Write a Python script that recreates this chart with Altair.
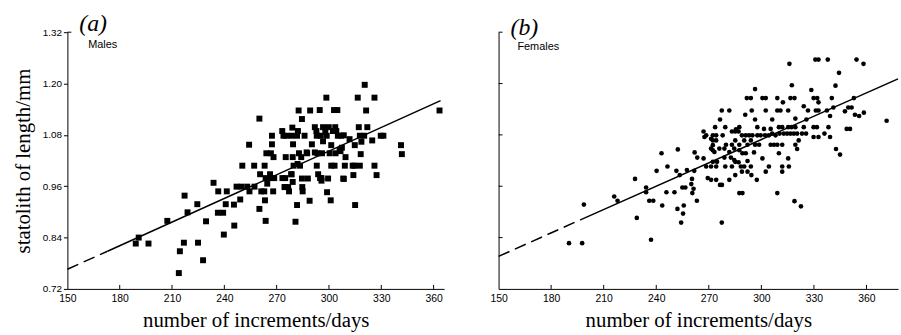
import altair as alt
import pandas as pd

# ---- data: (days, statolith length mm) ----
males = [
    (189.2, 0.826), (190.9, 0.840), (196.5, 0.826), (207.3, 0.879), (213.9, 0.757),
    (214.5, 0.808), (216.8, 0.828), (217.2, 0.938), (218.9, 0.899), (224.5, 0.918),
    (224.9, 0.828), (227.8, 0.787), (229.5, 0.878), (233.8, 0.968), (236.5, 0.948),
    (236.3, 0.898), (239.3, 0.898), (239.7, 0.847), (241.4, 0.948), (240.8, 0.918),
    (245.7, 0.868), (245.5, 0.917), (247.0, 0.959), (249.1, 0.929), (250.3, 1.008),
    (249.7, 0.959), (253.1, 0.959), (254.2, 1.057), (254.4, 0.948), (257.3, 0.959),
    (257.1, 1.008), (260.1, 0.907), (260.1, 1.118), (260.5, 0.988), (261.2, 0.948),
    (262.9, 0.948), (263.1, 1.008), (263.3, 0.927), (263.7, 0.879), (263.7, 0.979),
    (264.1, 1.037), (264.6, 0.966), (266.2, 0.988), (266.7, 0.979), (266.7, 1.037),
    (267.3, 1.058), (267.3, 1.078), (268.0, 0.948), (268.2, 1.028), (268.6, 0.979),
    (273.2, 1.089), (273.3, 0.979), (273.9, 1.078), (274.5, 0.958), (275.2, 1.028),
    (275.6, 1.078), (276.6, 0.958), (277.1, 0.948), (278.3, 0.988), (278.6, 1.078),
    (279.0, 1.097), (279.4, 1.058), (279.2, 1.028), (279.2, 0.970), (279.7, 1.008),
    (280.8, 0.877), (281.7, 1.078), (281.7, 0.916), (282.2, 1.089), (282.6, 1.137),
    (282.8, 1.037), (283.4, 1.008), (284.1, 1.028), (284.5, 1.117), (284.5, 0.978),
    (284.7, 0.958), (284.9, 0.948), (286.0, 1.078), (287.9, 0.978), (287.5, 1.037),
    (288.9, 0.926), (289.2, 1.137), (290.2, 1.058), (291.9, 1.098), (292.8, 1.089),
    (293.0, 1.078), (293.0, 1.008), (293.4, 1.037), (293.8, 0.988), (294.7, 1.138),
    (294.9, 0.979), (295.3, 1.078), (295.7, 0.973), (296.0, 1.037), (296.6, 1.065),
    (297.9, 1.087), (298.5, 1.167), (298.9, 0.946), (299.5, 0.978), (298.7, 1.078),
    (299.9, 1.098), (300.4, 1.037), (301.0, 0.927), (301.3, 1.056), (301.3, 1.008),
    (302.3, 1.089), (302.9, 1.138), (303.2, 1.008), (303.6, 1.098), (303.8, 1.037),
    (304.8, 1.138), (305.1, 1.078), (306.1, 1.045), (307.0, 1.078), (308.2, 0.978),
    (309.1, 1.008), (309.5, 1.028), (311.8, 1.070), (314.0, 0.986), (314.6, 1.008),
    (314.8, 1.056), (315.0, 0.916), (316.5, 1.167), (317.1, 1.098), (317.7, 1.078),
    (317.7, 1.008), (318.2, 1.035), (318.6, 1.064), (320.2, 1.078), (320.5, 1.197),
    (321.3, 1.137), (322.0, 1.098), (324.8, 1.067), (326.1, 1.167), (326.1, 1.008),
    (327.3, 0.986), (329.7, 1.078), (331.2, 1.078), (341.3, 1.056), (341.8, 1.035),
    (363.4, 1.137), (304.2, 1.089), (308.5, 1.079), (296.6, 1.098), (287.2, 1.039),
    (291.9, 1.039), (306.6, 1.042), (282.0, 1.012), (313.6, 1.008), (274.9, 0.979),
    (278.6, 0.988), (295.7, 0.979), (308.5, 0.977), (274.9, 0.958), (307.4, 1.050),
]

females = [
    (190.2, 0.827), (197.7, 0.827), (198.7, 0.917), (216.0, 0.936), (217.9, 0.926),
    (228.9, 0.886), (227.9, 0.977), (234.2, 0.957), (234.2, 0.946), (236.0, 0.926),
    (238.3, 0.926), (237.0, 0.835), (240.2, 0.996), (243.0, 1.037), (243.4, 0.915),
    (245.8, 0.946), (246.4, 1.006), (250.4, 0.946), (251.5, 0.996), (252.3, 1.046),
    (252.1, 0.907), (255.7, 0.915), (255.3, 0.896), (254.2, 0.875), (253.4, 0.986),
    (254.9, 0.957), (256.6, 0.957), (257.5, 0.998), (261.7, 0.996), (260.4, 0.977),
    (260.0, 0.965), (261.3, 0.954), (260.6, 0.944), (263.2, 0.926), (261.9, 1.039),
    (263.4, 1.027), (267.0, 1.025), (271.3, 1.071), (272.3, 1.056), (272.3, 1.044),
    (267.5, 1.075),
    (316.0, 1.246), (330.8, 1.256), (332.6, 1.256), (337.9, 1.256), (354.3, 1.256),
    (358.3, 1.246), (344.3, 1.225), (317.4, 1.196), (342.3, 1.195), (296.4, 1.187),
    (328.5, 1.185), (291.7, 1.166), (294.0, 1.166), (300.6, 1.166), (302.5, 1.166),
    (309.1, 1.166), (316.6, 1.166), (318.9, 1.166), (329.8, 1.166), (331.9, 1.166),
    (340.2, 1.166), (352.8, 1.166), (312.3, 1.156), (332.6, 1.156), (324.2, 1.147),
    (277.4, 1.137), (281.7, 1.137), (294.5, 1.137), (302.5, 1.137), (309.1, 1.137),
    (310.9, 1.137), (315.3, 1.137), (326.6, 1.137), (331.1, 1.137), (332.6, 1.137),
    (337.4, 1.137), (341.1, 1.144), (347.7, 1.135), (349.6, 1.144), (351.5, 1.144),
    (358.5, 1.132), (355.8, 1.124), (353.4, 1.127), (290.8, 1.127), (296.4, 1.116),
    (306.2, 1.116), (319.4, 1.118), (325.7, 1.116), (339.2, 1.124), (276.4, 1.116),
    (273.6, 1.098), (279.4, 1.098), (287.4, 1.098), (285.5, 1.093), (297.7, 1.098),
    (301.5, 1.094), (305.3, 1.094), (310.0, 1.098), (311.9, 1.098), (315.3, 1.098),
    (317.2, 1.098), (319.4, 1.098), (324.2, 1.098), (329.8, 1.098), (331.7, 1.098),
    (338.3, 1.098), (348.7, 1.094), (350.6, 1.094), (371.5, 1.113), (267.0, 1.088),
    (268.5, 1.079), (272.3, 1.079), (274.2, 1.079), (277.9, 1.079), (283.2, 1.088),
    (285.1, 1.088), (287.0, 1.088), (288.9, 1.079), (291.1, 1.079), (293.0, 1.079),
    (294.9, 1.079), (297.7, 1.079), (299.6, 1.079), (302.1, 1.079), (304.3, 1.079),
    (306.2, 1.083), (308.1, 1.079), (310.4, 1.083), (312.8, 1.083), (314.7, 1.083),
    (316.6, 1.083), (318.5, 1.083), (320.4, 1.083), (323.2, 1.083), (325.5, 1.083),
    (329.8, 1.075), (332.6, 1.075), (336.0, 1.083), (339.2, 1.075), (272.3, 1.067),
    (274.2, 1.067), (279.8, 1.057), (283.2, 1.057), (285.1, 1.067), (287.4, 1.057),
    (290.2, 1.067), (292.1, 1.057), (294.0, 1.067), (296.4, 1.057), (298.7, 1.057),
    (305.3, 1.057), (307.2, 1.057), (309.1, 1.057), (311.9, 1.057), (319.4, 1.057),
    (321.3, 1.067), (271.3, 1.048), (273.2, 1.040), (276.0, 1.048), (278.9, 1.048),
    (281.7, 1.040), (284.5, 1.048), (287.4, 1.044), (289.2, 1.037), (291.1, 1.037),
    (295.8, 1.039), (320.4, 1.047), (342.6, 1.047), (344.9, 1.034), (272.3, 1.017),
    (274.7, 1.017), (278.9, 1.027), (282.6, 1.027), (284.5, 1.021), (287.0, 1.016),
    (292.1, 1.019), (300.6, 1.025), (310.0, 1.037), (315.3, 1.025), (268.5, 1.006),
    (271.3, 1.006), (274.2, 1.006), (279.4, 1.006), (283.2, 1.006), (285.1, 1.017),
    (288.3, 1.006), (290.2, 1.006), (294.0, 1.006), (304.3, 1.006), (311.9, 1.006),
    (315.7, 1.006), (269.4, 0.979), (271.3, 0.975), (274.2, 0.975), (281.7, 0.975),
    (285.1, 0.986), (288.9, 0.994), (292.1, 0.994), (294.3, 0.986), (297.4, 0.975),
    (302.5, 0.994), (311.9, 0.994), (276.4, 0.963), (277.5, 0.963), (287.4, 0.944),
    (289.2, 0.944), (309.1, 0.944), (318.9, 0.925), (322.6, 0.913), (277.4, 0.875),
]

# regression lines: dashed (extrapolated) part and solid part
male_dash = [(150, 0.766), (173, 0.808)]
male_solid = [(173, 0.808), (364, 1.160)]
female_dash = [(150, 0.796), (197, 0.882)]
female_solid = [(197, 0.882), (378, 1.211)]

x_ticks = [150, 180, 210, 240, 270, 300, 330, 360]
y_ticks = [0.72, 0.84, 0.96, 1.08, 1.20, 1.32]

X_A = [150, 366]
X_B = [150, 378]
Y_DOM = [0.72, 1.32]
W_A, W_B, H = 380, 403, 259

SERIF = "Liberation Serif"
SANS = "Liberation Sans"
X_TITLE = "number of increments/days"
Y_TITLE = "statolith of length/mm"


def df(pairs):
    return pd.DataFrame(pairs, columns=["days", "length"])


def panel(points, dash, solid, xdom, width, label, sex, marker, show_y):
    xs = alt.Scale(domain=xdom, nice=False, zero=False)
    ys = alt.Scale(domain=Y_DOM, nice=False, zero=False)
    ppd = width / (xdom[1] - xdom[0])
    ppu = H / (Y_DOM[1] - Y_DOM[0])

    x_axis = alt.Axis(
        values=x_ticks, ticks=False, tickSize=0, labelPadding=5, labelFontSize=10.5,
        labelFont=SANS, labelColor="black", labelFlush=False,
        title=X_TITLE, titleFont=SERIF, titleFontSize=21,
        titleFontWeight="normal", titleColor="black", titlePadding=5,
        domainColor="black", grid=False,
    )
    if show_y:
        y_axis = alt.Axis(
            values=y_ticks, format=".2f", tickSize=4, tickColor="black",
            labelPadding=2, labelFontSize=10, labelFont=SANS, labelColor="black",
            labelFlush=False,
            title=Y_TITLE, titleFont=SERIF, titleFontSize=21,
            titleFontWeight="normal", titleColor="black", titlePadding=9,
            domainColor="black", grid=False,
        )
    else:
        y_axis = alt.Axis(
            values=y_ticks, labels=False, ticks=False, title=None,
            domainColor="black", grid=False,
        )

    X = lambda: alt.X("days:Q", scale=xs)
    Y = lambda: alt.Y("length:Q", scale=ys)

    base_pts = alt.Chart(df(points))
    if marker == "square":
        pts = base_pts.mark_square(size=36, color="black", opacity=1)
    else:
        pts = base_pts.mark_circle(size=22, color="black", opacity=1)
    pts = pts.encode(
        x=alt.X("days:Q", scale=xs, axis=x_axis),
        y=alt.Y("length:Q", scale=ys, axis=y_axis),
    )

    dash_line = alt.Chart(df(dash)).mark_line(
        color="black", strokeWidth=1.5, strokeDash=[12, 6]
    ).encode(x=X(), y=Y())
    solid_line = alt.Chart(df(solid)).mark_line(
        color="black", strokeWidth=1.5
    ).encode(x=X(), y=Y())

    # inward x ticks
    xt = alt.Chart(pd.DataFrame({"days": x_ticks[1:]})).mark_rule(
        color="black", strokeWidth=1
    ).encode(
        x=X(),
        y=alt.YDatum(Y_DOM[0]),
        y2=alt.Y2Datum(Y_DOM[0] + 4 / ppu),
    )

    # inward y ticks (panel b) / top tick (panel a)
    yvals = y_ticks[1:] if not show_y else [y_ticks[-1]]
    yt = alt.Chart(pd.DataFrame({"length": yvals})).mark_rule(
        color="black", strokeWidth=1
    ).encode(
        x=alt.XDatum(xdom[0]),
        x2=alt.X2Datum(xdom[0] + 4 / ppd),
        y=Y(),
    )

    lab = alt.Chart(pd.DataFrame({"t": [label]})).mark_text(
        font=SERIF, fontSize=24, fontStyle="italic", align="left",
        baseline="middle", color="black",
    ).encode(
        x=alt.XDatum(xdom[0] + 12 / ppd),
        y=alt.YDatum(Y_DOM[1] + (8 if show_y else 4) / ppu),
        text="t:N",
    )
    sx = alt.Chart(pd.DataFrame({"t": [sex]})).mark_text(
        font=SANS, fontSize=11, align="left", baseline="middle", color="black",
    ).encode(
        x=alt.XDatum(xdom[0] + (21 if show_y else 19) / ppd),
        y=alt.YDatum(Y_DOM[1] - (13 if show_y else 15) / ppu),
        text="t:N",
    )

    return alt.layer(pts, dash_line, solid_line, xt, yt, lab, sx).properties(
        width=width, height=H
    )


pa = panel(males, male_dash, male_solid, X_A, W_A, "(a)", "Males", "square", True)
pb = panel(females, female_dash, female_solid, X_B, W_B, "(b)", "Females", "circle", False)

chart = alt.hconcat(pa, pb, spacing=46).properties(
    padding={"left": 12, "top": 10, "right": 0, "bottom": 0},
    background="white",
).configure_view(stroke=None)

chart.save("out.html", embed_options={"renderer": "svg", "actions": False})
